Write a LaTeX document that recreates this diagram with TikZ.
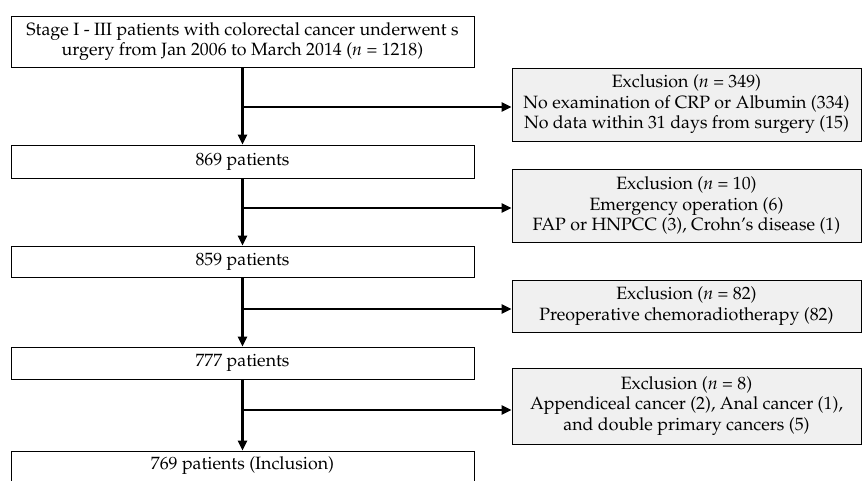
\documentclass[tikz,border=0pt]{standalone}
\usepackage[T1]{fontenc}
\usepackage{mathpazo}
\usetikzlibrary{arrows.meta}

\begin{document}
\begin{tikzpicture}[x=1pt,y=-1pt]
\tikzset{
  countbox/.style={rectangle,draw=black,line width=0.8pt,minimum width=463pt,inner sep=1pt,align=center,font=\fontsize{17.8}{20.5}\selectfont},
  exclbox/.style={rectangle,draw=black,line width=0.8pt,fill=black!6,minimum width=349pt,inner sep=1pt,align=center,font=\fontsize{17.8}{20.5}\selectfont},
  flow/.style={draw=black,line width=2.8pt,-{Triangle[length=10pt,width=9pt]}}
}
\useasboundingbox (0,0) rectangle (862,480);
\node[countbox,minimum height=51pt] (n_start) at (242.5,41.5) {Stage I - III patients with colorectal cancer underwent s\\urgery from Jan 2006 to March 2014 (\textit{n} = 1218)};
\node[countbox,minimum height=33pt] (n_869) at (242.5,161.5) {869 patients};
\node[countbox,minimum height=31pt] (n_859) at (242.5,261.5) {859 patients};
\node[countbox,minimum height=32pt] (n_777) at (242.5,363) {777 patients};
\node[countbox,minimum height=30pt] (n_769) at (242.5,466) {769 patients (Inclusion)};
\node[exclbox,minimum height=73pt] (n_ex1) at (686.5,104.5) {Exclusion (\textit{n} = 349)\\No examination of CRP or Albumin (334)\\No data within 31 days from surgery (15)};
\node[exclbox,minimum height=73pt] (n_ex2) at (686.5,205.5) {Exclusion (\textit{n} = 10)\\Emergency operation (6)\\FAP or HNPCC (3), Crohn's disease (1)};
\node[exclbox,minimum height=52pt] (n_ex3) at (686.5,306) {Exclusion (\textit{n} = 82)\\Preoperative chemoradiotherapy (82)};
\node[exclbox,minimum height=76pt] (n_ex4) at (686.5,406) {Exclusion (\textit{n} = 8)\\Appendiceal cancer (2), Anal cancer (1),\\and double primary cancers (5)};
\draw[flow] (n_start) -- (n_869);
\draw[flow] (n_869) -- (n_859);
\draw[flow] (n_859) -- (n_777);
\draw[flow] (n_777) -- (n_769);
\draw[flow] ([yshift=-2.5pt]n_start.south |- n_ex1.west) -- ([yshift=-2.5pt]n_ex1.west);
\draw[flow] ([yshift=-2.5pt]n_869.south |- n_ex2.west) -- ([yshift=-2.5pt]n_ex2.west);
\draw[flow] ([yshift=-3pt]n_859.south |- n_ex3.west) -- ([yshift=-3pt]n_ex3.west);
\draw[flow] ([yshift=-4pt]n_777.south |- n_ex4.west) -- ([yshift=-4pt]n_ex4.west);
\end{tikzpicture}
\end{document}
